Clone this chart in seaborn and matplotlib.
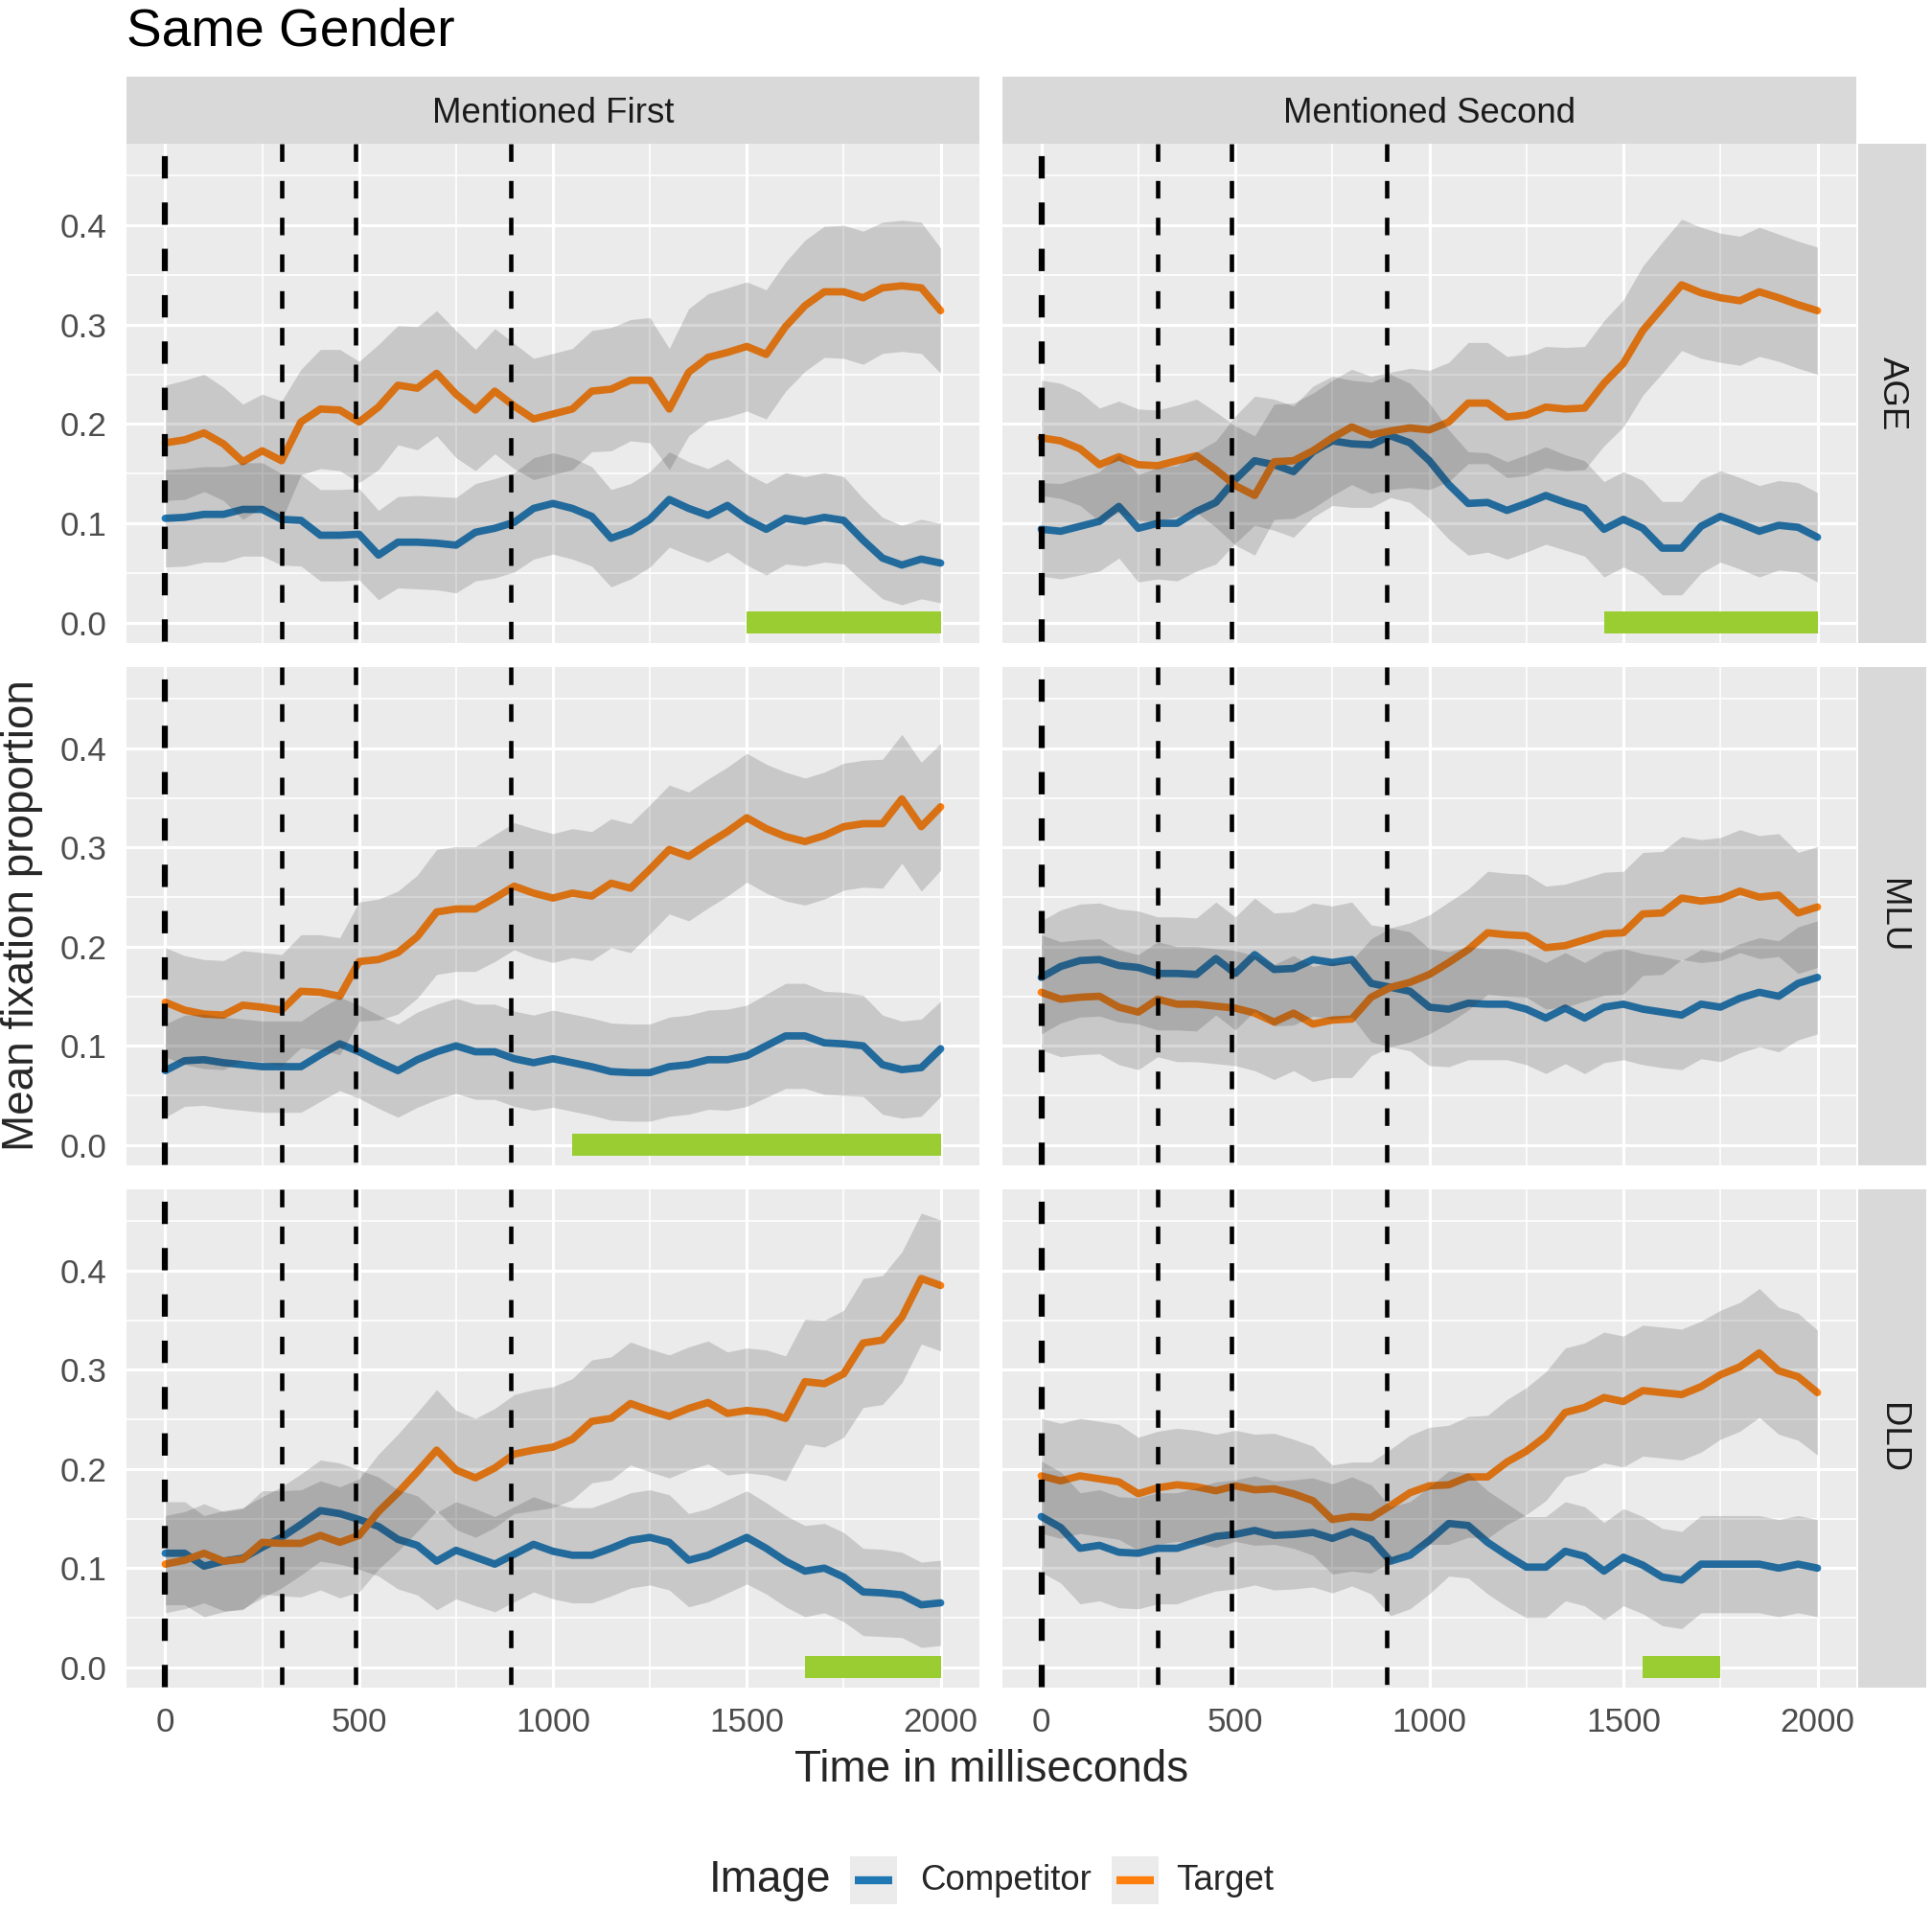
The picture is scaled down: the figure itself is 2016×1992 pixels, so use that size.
import pandas as pd
import seaborn as sns
import matplotlib.pyplot as plt
from matplotlib.patches import Rectangle
from matplotlib.lines import Line2D

# time bins (ms)
time_ms = list(range(0, 2001, 50))

measures = ["AGE", "MLU", "DLD"]
mentions = ["Mentioned First", "Mentioned Second"]
images = ["Competitor", "Target"]
palette = {"Competitor": "#1f77b4", "Target": "#ff7f0e"}

# AGE - Mentioned First
age_first_comp = [0.105, 0.106, 0.109, 0.109, 0.114, 0.114, 0.104, 0.103, 0.088, 0.088, 0.089, 0.068, 0.081, 0.081,
                  0.080, 0.078, 0.091, 0.095, 0.101, 0.115, 0.120, 0.115, 0.107, 0.085, 0.092, 0.104, 0.124, 0.115,
                  0.108, 0.118, 0.104, 0.094, 0.105, 0.102, 0.106, 0.103, 0.083, 0.065, 0.058, 0.064, 0.060]
age_first_comp_se = [0.049, 0.049, 0.048, 0.048, 0.047, 0.047, 0.046, 0.046, 0.046, 0.046, 0.046, 0.045, 0.046, 0.047,
                     0.047, 0.048, 0.049, 0.050, 0.050, 0.051, 0.051, 0.051, 0.050, 0.049, 0.048, 0.048, 0.048, 0.047,
                     0.047, 0.047, 0.046, 0.046, 0.046, 0.045, 0.045, 0.044, 0.042, 0.041, 0.040, 0.040, 0.040]
age_first_targ = [0.181, 0.184, 0.191, 0.180, 0.162, 0.173, 0.163, 0.202, 0.215, 0.214, 0.202, 0.217, 0.239, 0.236,
                  0.251, 0.230, 0.214, 0.233, 0.218, 0.205, 0.210, 0.215, 0.233, 0.235, 0.244, 0.244, 0.215, 0.252,
                  0.267, 0.272, 0.278, 0.270, 0.298, 0.319, 0.333, 0.333, 0.327, 0.337, 0.339, 0.337, 0.314]
age_first_targ_se = [0.058, 0.060, 0.059, 0.057, 0.058, 0.057, 0.060, 0.053, 0.060, 0.061, 0.061, 0.063, 0.060, 0.062,
                     0.063, 0.064, 0.061, 0.063, 0.063, 0.061, 0.061, 0.061, 0.061, 0.062, 0.061, 0.063, 0.061, 0.064,
                     0.064, 0.065, 0.065, 0.065, 0.065, 0.066, 0.066, 0.067, 0.067, 0.066, 0.066, 0.066, 0.063]

# AGE - Mentioned Second
age_second_comp = [0.094, 0.092, 0.097, 0.102, 0.117, 0.095, 0.100, 0.100, 0.112, 0.121, 0.144, 0.163, 0.159, 0.152,
                   0.172, 0.183, 0.180, 0.179, 0.188, 0.181, 0.163, 0.139, 0.120, 0.121, 0.113, 0.120, 0.128, 0.121,
                   0.115, 0.094, 0.104, 0.095, 0.075, 0.075, 0.097, 0.107, 0.100, 0.092, 0.098, 0.096, 0.086]
age_second_comp_se = [0.047, 0.048, 0.049, 0.050, 0.052, 0.054, 0.056, 0.058, 0.060, 0.062, 0.064, 0.065, 0.066, 0.066,
                      0.066, 0.065, 0.064, 0.063, 0.062, 0.060, 0.058, 0.055, 0.052, 0.050, 0.049, 0.049, 0.049, 0.048,
                      0.048, 0.048, 0.048, 0.048, 0.047, 0.047, 0.047, 0.046, 0.046, 0.046, 0.045, 0.045, 0.045]
age_second_targ = [0.186, 0.183, 0.175, 0.159, 0.167, 0.159, 0.158, 0.163, 0.168, 0.154, 0.138, 0.128, 0.162, 0.163,
                   0.173, 0.186, 0.197, 0.189, 0.193, 0.196, 0.194, 0.202, 0.221, 0.221, 0.207, 0.209, 0.217, 0.215,
                   0.216, 0.241, 0.261, 0.294, 0.317, 0.340, 0.332, 0.327, 0.324, 0.333, 0.327, 0.320, 0.314]
age_second_targ_se = [0.058, 0.058, 0.057, 0.057, 0.056, 0.056, 0.056, 0.056, 0.057, 0.058, 0.060, 0.060, 0.058, 0.058,
                      0.058, 0.058, 0.058, 0.059, 0.059, 0.060, 0.060, 0.060, 0.061, 0.061, 0.061, 0.061, 0.061, 0.062,
                      0.062, 0.063, 0.064, 0.065, 0.066, 0.066, 0.066, 0.065, 0.065, 0.065, 0.064, 0.064, 0.064]

# MLU - Mentioned First
mlu_first_comp = [0.075, 0.085, 0.086, 0.083, 0.081, 0.079, 0.079, 0.079, 0.091, 0.102, 0.094, 0.084, 0.075, 0.086,
                  0.094, 0.100, 0.094, 0.094, 0.087, 0.083, 0.087, 0.083, 0.079, 0.074, 0.073, 0.073, 0.079, 0.081,
                  0.086, 0.086, 0.090, 0.100, 0.110, 0.110, 0.103, 0.102, 0.100, 0.081, 0.076, 0.078, 0.097]
mlu_first_comp_se = [0.047, 0.046, 0.046, 0.046, 0.046, 0.046, 0.046, 0.046, 0.047, 0.047, 0.047, 0.047, 0.047, 0.048,
                     0.048, 0.048, 0.048, 0.048, 0.048, 0.048, 0.049, 0.049, 0.049, 0.049, 0.049, 0.049, 0.050, 0.050,
                     0.050, 0.051, 0.051, 0.052, 0.053, 0.053, 0.052, 0.052, 0.051, 0.050, 0.049, 0.049, 0.048]
mlu_first_targ = [0.144, 0.136, 0.132, 0.131, 0.141, 0.139, 0.136, 0.155, 0.154, 0.150, 0.185, 0.187, 0.194, 0.210,
                  0.235, 0.238, 0.238, 0.249, 0.261, 0.254, 0.249, 0.254, 0.251, 0.264, 0.259, 0.278, 0.298, 0.291,
                  0.304, 0.316, 0.330, 0.319, 0.311, 0.306, 0.312, 0.321, 0.324, 0.324, 0.349, 0.321, 0.341]
mlu_first_targ_se = [0.055, 0.055, 0.055, 0.055, 0.055, 0.055, 0.056, 0.057, 0.058, 0.059, 0.060, 0.061, 0.062, 0.062,
                     0.063, 0.063, 0.063, 0.064, 0.064, 0.065, 0.065, 0.065, 0.065, 0.065, 0.065, 0.065, 0.065, 0.065,
                     0.065, 0.065, 0.065, 0.065, 0.065, 0.064, 0.064, 0.064, 0.064, 0.065, 0.065, 0.065, 0.064]

# MLU - Mentioned Second
mlu_second_comp = [0.169, 0.180, 0.186, 0.187, 0.181, 0.179, 0.173, 0.173, 0.172, 0.188, 0.173, 0.192, 0.177, 0.178,
                   0.187, 0.184, 0.187, 0.163, 0.159, 0.155, 0.139, 0.137, 0.143, 0.142, 0.142, 0.137, 0.128, 0.138,
                   0.128, 0.139, 0.142, 0.137, 0.134, 0.131, 0.142, 0.139, 0.148, 0.154, 0.150, 0.163, 0.169]
mlu_second_comp_se = [0.057, 0.057, 0.057, 0.057, 0.057, 0.057, 0.057, 0.057, 0.057, 0.057, 0.057, 0.057, 0.057, 0.057,
                      0.057, 0.057, 0.058, 0.059, 0.060, 0.060, 0.059, 0.058, 0.057, 0.056, 0.056, 0.056, 0.056, 0.056,
                      0.056, 0.056, 0.056, 0.056, 0.056, 0.055, 0.055, 0.055, 0.055, 0.055, 0.056, 0.057, 0.057]
mlu_second_targ = [0.154, 0.147, 0.149, 0.150, 0.139, 0.134, 0.147, 0.142, 0.142, 0.140, 0.138, 0.133, 0.124, 0.133,
                   0.122, 0.126, 0.127, 0.149, 0.159, 0.164, 0.172, 0.184, 0.197, 0.214, 0.212, 0.211, 0.199, 0.201,
                   0.207, 0.213, 0.214, 0.233, 0.234, 0.249, 0.246, 0.248, 0.256, 0.250, 0.252, 0.234, 0.240]
mlu_second_targ_se = [0.058, 0.058, 0.058, 0.058, 0.058, 0.058, 0.058, 0.058, 0.058, 0.058, 0.058, 0.058, 0.058, 0.058,
                      0.058, 0.058, 0.059, 0.059, 0.060, 0.060, 0.060, 0.061, 0.061, 0.062, 0.062, 0.062, 0.062, 0.062,
                      0.062, 0.062, 0.062, 0.062, 0.062, 0.062, 0.062, 0.062, 0.062, 0.062, 0.062, 0.061, 0.061]

# DLD - Mentioned First
dld_first_comp = [0.115, 0.115, 0.102, 0.107, 0.110, 0.121, 0.131, 0.144, 0.158, 0.155, 0.149, 0.142, 0.129, 0.123,
                  0.107, 0.118, 0.111, 0.104, 0.114, 0.124, 0.117, 0.113, 0.113, 0.120, 0.128, 0.131, 0.126, 0.108,
                  0.113, 0.122, 0.131, 0.120, 0.107, 0.097, 0.100, 0.091, 0.076, 0.075, 0.073, 0.063, 0.065]
dld_first_comp_se = [0.052, 0.052, 0.051, 0.051, 0.051, 0.051, 0.051, 0.051, 0.051, 0.051, 0.050, 0.050, 0.050, 0.050,
                     0.049, 0.049, 0.049, 0.048, 0.048, 0.048, 0.048, 0.048, 0.048, 0.048, 0.048, 0.048, 0.048, 0.047,
                     0.047, 0.047, 0.047, 0.046, 0.046, 0.046, 0.045, 0.045, 0.044, 0.044, 0.043, 0.043, 0.043]
dld_first_targ = [0.104, 0.108, 0.115, 0.107, 0.109, 0.126, 0.125, 0.125, 0.133, 0.126, 0.133, 0.157, 0.176, 0.197,
                  0.219, 0.199, 0.191, 0.201, 0.215, 0.219, 0.222, 0.230, 0.248, 0.251, 0.266, 0.259, 0.253, 0.261,
                  0.267, 0.256, 0.259, 0.257, 0.251, 0.288, 0.286, 0.296, 0.327, 0.330, 0.353, 0.392, 0.385]
dld_first_targ_se = [0.049, 0.049, 0.050, 0.050, 0.051, 0.052, 0.053, 0.054, 0.055, 0.056, 0.057, 0.058, 0.059, 0.060,
                     0.061, 0.060, 0.060, 0.060, 0.060, 0.061, 0.061, 0.061, 0.062, 0.062, 0.062, 0.062, 0.062, 0.062,
                     0.062, 0.062, 0.063, 0.063, 0.063, 0.063, 0.064, 0.064, 0.065, 0.065, 0.066, 0.066, 0.066]

# DLD - Mentioned Second
dld_second_comp = [0.152, 0.141, 0.120, 0.123, 0.116, 0.115, 0.120, 0.120, 0.126, 0.132, 0.134, 0.138, 0.133, 0.134,
                   0.136, 0.130, 0.137, 0.129, 0.107, 0.113, 0.128, 0.145, 0.143, 0.126, 0.113, 0.101, 0.101, 0.117,
                   0.112, 0.097, 0.111, 0.103, 0.091, 0.088, 0.104, 0.104, 0.104, 0.104, 0.100, 0.104, 0.100]
dld_second_comp_se = [0.056, 0.056, 0.056, 0.056, 0.056, 0.056, 0.056, 0.056, 0.055, 0.055, 0.055, 0.055, 0.055, 0.055,
                      0.055, 0.055, 0.055, 0.055, 0.055, 0.054, 0.054, 0.053, 0.053, 0.052, 0.052, 0.051, 0.051, 0.050,
                      0.050, 0.049, 0.049, 0.049, 0.049, 0.049, 0.049, 0.049, 0.049, 0.049, 0.049, 0.049, 0.049]
dld_second_targ = [0.193, 0.188, 0.193, 0.190, 0.187, 0.175, 0.181, 0.184, 0.182, 0.178, 0.183, 0.179, 0.180, 0.175,
                   0.168, 0.149, 0.152, 0.151, 0.163, 0.176, 0.183, 0.184, 0.192, 0.192, 0.207, 0.218, 0.233, 0.257,
                   0.262, 0.272, 0.268, 0.279, 0.277, 0.275, 0.283, 0.295, 0.303, 0.317, 0.299, 0.293, 0.277]
dld_second_targ_se = [0.058, 0.058, 0.058, 0.058, 0.058, 0.057, 0.057, 0.057, 0.057, 0.057, 0.056, 0.056, 0.056, 0.055,
                      0.055, 0.055, 0.055, 0.056, 0.057, 0.058, 0.059, 0.060, 0.061, 0.062, 0.063, 0.064, 0.065, 0.065,
                      0.065, 0.066, 0.066, 0.066, 0.066, 0.066, 0.066, 0.065, 0.065, 0.065, 0.064, 0.064, 0.063]

# significant windows (green bars), ms
sig_windows = {
    ("AGE", "Mentioned First"): (1500, 2000),
    ("AGE", "Mentioned Second"): (1450, 2000),
    ("MLU", "Mentioned First"): (1050, 2000),
    ("DLD", "Mentioned First"): (1650, 2000),
    ("DLD", "Mentioned Second"): (1550, 1750),
}

# event markers (ms)
event_times = [0, 300, 490, 890]

panels = {
    ("AGE", "Mentioned First"): (age_first_comp, age_first_comp_se, age_first_targ, age_first_targ_se),
    ("AGE", "Mentioned Second"): (age_second_comp, age_second_comp_se, age_second_targ, age_second_targ_se),
    ("MLU", "Mentioned First"): (mlu_first_comp, mlu_first_comp_se, mlu_first_targ, mlu_first_targ_se),
    ("MLU", "Mentioned Second"): (mlu_second_comp, mlu_second_comp_se, mlu_second_targ, mlu_second_targ_se),
    ("DLD", "Mentioned First"): (dld_first_comp, dld_first_comp_se, dld_first_targ, dld_first_targ_se),
    ("DLD", "Mentioned Second"): (dld_second_comp, dld_second_comp_se, dld_second_targ, dld_second_targ_se),
}

records = []
for (measure, mention), (comp, comp_se, targ, targ_se) in panels.items():
    for img, vals, ses in [("Competitor", comp, comp_se), ("Target", targ, targ_se)]:
        for t, v, s in zip(time_ms, vals, ses):
            records.append({"time": t, "prop": v, "se": s, "Image": img,
                            "Measure": measure, "Mention": mention})
df = pd.DataFrame(records)
df["lo"] = df["prop"] - df["se"]
df["hi"] = df["prop"] + df["se"]

sns.set_style("white")
plt.rcParams["font.family"] = ["Liberation Sans", "DejaVu Sans"]
plt.rcParams["lines.scale_dashes"] = False

W, H = 2016, 1992
fig = plt.figure(figsize=(W / 300, H / 300), dpi=300)


def box(x0, y0, x1, y1):
    return [x0 / W, 1 - y1 / H, (x1 - x0) / W, (y1 - y0) / H]


col_px = [(132, 1022), (1046, 1937)]
row_px = [(150, 671), (696, 1216), (1241, 1761)]

for i, measure in enumerate(measures):
    for j, mention in enumerate(mentions):
        x0, x1 = col_px[j]
        y0, y1 = row_px[i]
        ax = fig.add_axes(box(x0, y0, x1, y1))
        ax.set_facecolor("#EBEBEB")
        sub = df[(df.Measure == measure) & (df.Mention == mention)]

        sns.lineplot(data=sub, x="time", y="prop", hue="Image", hue_order=images,
                     palette=palette, lw=1.85, ax=ax, legend=False, zorder=2)
        for img in images:
            s = sub[sub.Image == img]
            ax.fill_between(s["time"], s["lo"], s["hi"], color="#333333",
                            alpha=0.19, lw=0, zorder=3)

        if (measure, mention) in sig_windows:
            a, b = sig_windows[(measure, mention)]
            ax.fill_between([a, b], -0.011, 0.011, color="#9ACD32", lw=0, zorder=3.5)

        for t in event_times:
            if t == 0:
                ax.plot([t, t], [1, 0], transform=ax.get_xaxis_transform(), color="black",
                        lw=1.5, ls=(8.5, (5.6, 6.0)), zorder=4, solid_capstyle="butt")
            else:
                ax.plot([t, t], [1, 0], transform=ax.get_xaxis_transform(), color="black",
                        lw=1.1, ls=(0, (4.4, 4.8)), zorder=4)

        ax.set_xlim(-100, 2100)
        ax.set_ylim(-0.0205, 0.482)
        ax.set_xticks([0, 500, 1000, 1500, 2000])
        ax.set_xticks([250, 750, 1250, 1750], minor=True)
        ax.set_yticks([0.0, 0.1, 0.2, 0.3, 0.4])
        ax.set_yticks([0.05, 0.15, 0.25, 0.35, 0.45], minor=True)
        ax.grid(which="major", color="white", lw=0.75, zorder=0)
        ax.grid(which="minor", color="white", lw=0.4, zorder=0)
        ax.set_axisbelow(True)
        for sp in ax.spines.values():
            sp.set_visible(False)
        ax.set_xlabel("")
        ax.set_ylabel("")
        ax.tick_params(which="minor", length=0)
        ax.tick_params(which="major", length=2.7, width=0.7, color="#333333",
                       labelsize=8.4, labelcolor="#4D4D4D", pad=2.2)
        if j == 0:
            ax.set_yticklabels(["0.0", "0.1", "0.2", "0.3", "0.4"])
        else:
            ax.tick_params(axis="y", length=0, labelleft=False)
        if i == 2:
            ax.set_xticklabels(["0", "500", "1000", "1500", "2000"])
        else:
            ax.tick_params(axis="x", length=0, labelbottom=False)

        # top strips
        if i == 0:
            sax = fig.add_axes(box(x0, 80, x1, 150))
            sax.set_facecolor("#D9D9D9")
            sax.set_xticks([])
            sax.set_yticks([])
            for sp in sax.spines.values():
                sp.set_visible(False)
            sax.text(0.5, 0.45, mention, ha="center", va="center", fontsize=8.8,
                     color="#1A1A1A", transform=sax.transAxes)
    # right strips
    rax = fig.add_axes(box(1939, row_px[i][0], 2010, row_px[i][1]))
    rax.set_facecolor("#D9D9D9")
    rax.set_xticks([])
    rax.set_yticks([])
    for sp in rax.spines.values():
        sp.set_visible(False)
    rax.text(0.5, 0.5, measure, ha="center", va="center", rotation=270, fontsize=8.8,
             color="#1A1A1A", transform=rax.transAxes)

fig.text(132 / W, 1 - 34 / H, "Same Gender", ha="left", va="center", fontsize=13.2, color="black")
fig.text(1035 / W, 1 - 1847 / H, "Time in milliseconds", ha="center", va="center", fontsize=11)
fig.text(23 / W, 1 - 955 / H, "Mean fixation proportion", ha="center", va="center",
         rotation=90, fontsize=11)

# legend
ly = 1 - 1962 / H
fig.text(740 / W, ly, "Image", ha="left", va="center", fontsize=11)
for kx, tx, img in [(887, 960, "Competitor"), (1160, 1227, "Target")]:
    fig.patches.append(Rectangle((kx / W, 1 - 1987 / H), 49 / W, 50 / H, transform=fig.transFigure,
                                 facecolor="#EBEBEB", edgecolor="none"))
    fig.lines.append(Line2D([(kx + 5) / W, (kx + 44) / W], [ly, ly], transform=fig.transFigure,
                            color=palette[img], lw=2.0, solid_capstyle="butt"))
    fig.text(tx / W, ly, img, ha="left", va="center", fontsize=8.8)

fig.savefig("out.png", dpi=300, facecolor="white")
